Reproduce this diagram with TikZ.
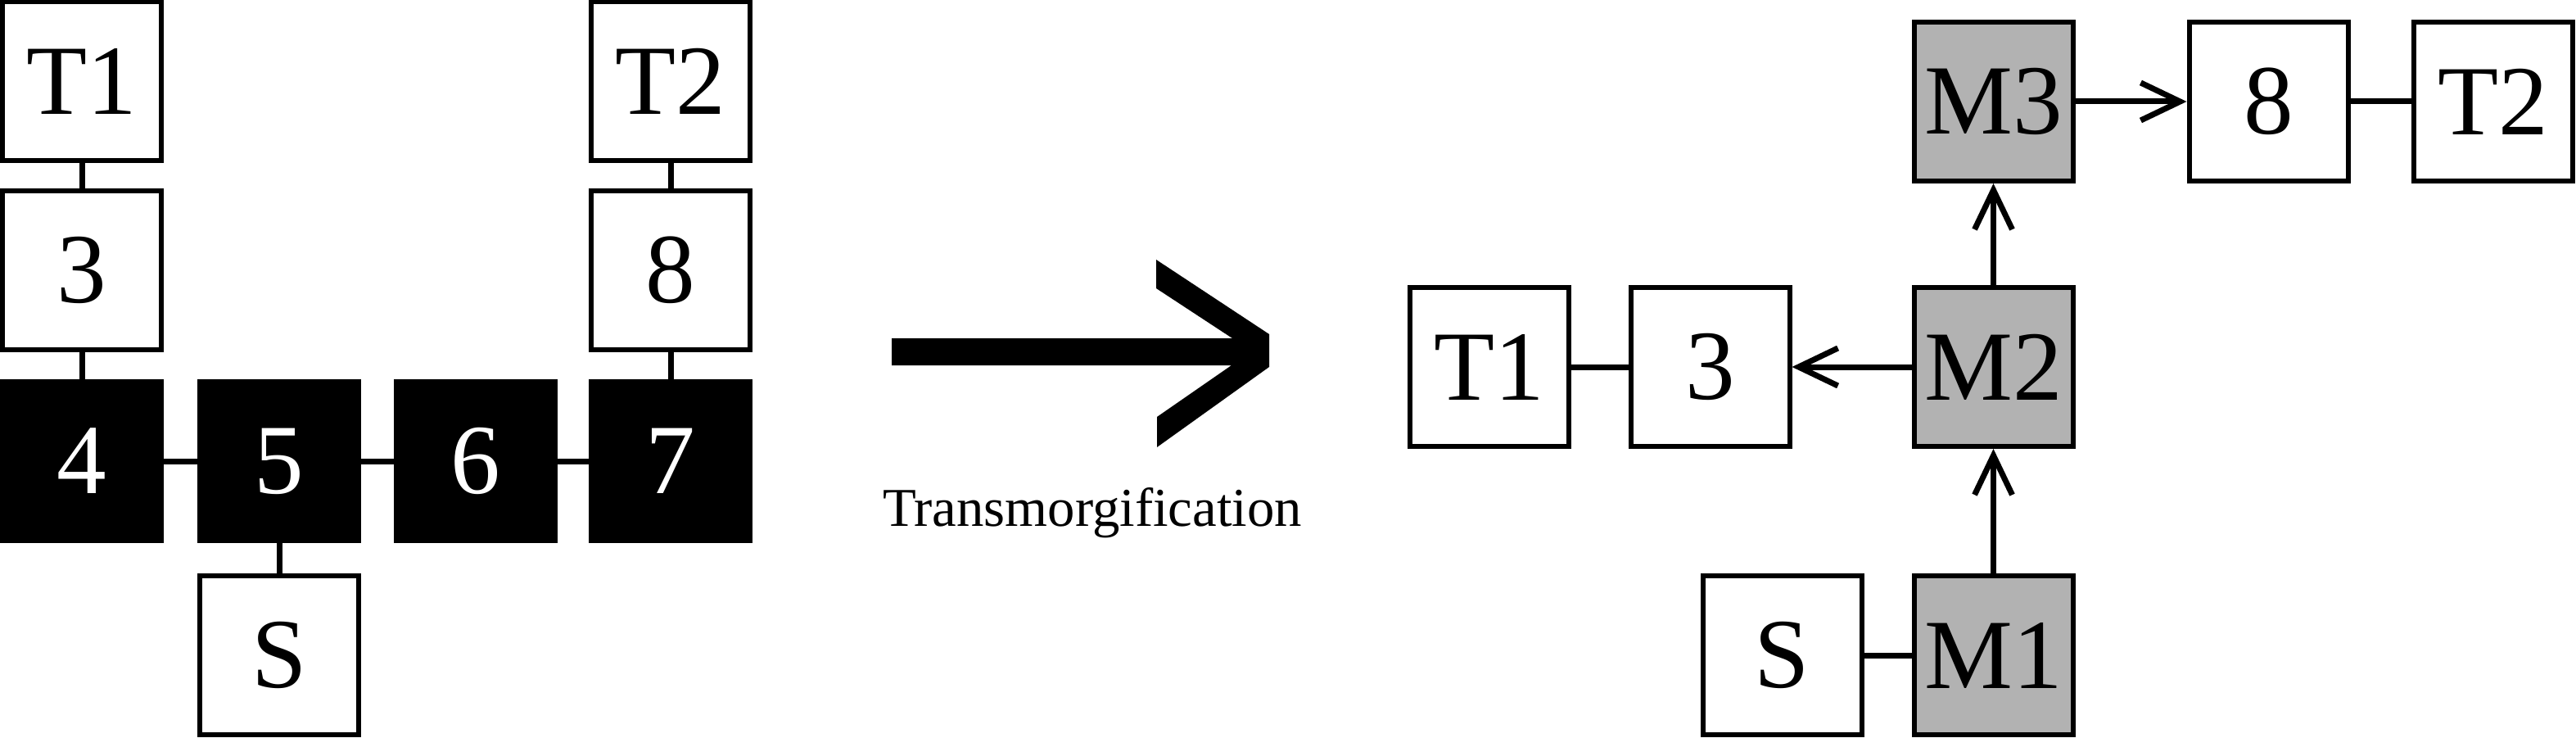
\documentclass[tikz,border=0pt]{standalone}
\usepackage{fontspec}
\setmainfont{Liberation Serif}
\usetikzlibrary{arrows.meta}
\newcommand\blockfont{\fontsize{34.5}{40}\selectfont}
\newcommand\notefont{\fontsize{19}{23}\selectfont}
\begin{document}
\begin{tikzpicture}[node distance={24mm}, line width=0.6mm,
    box/.style = {draw, minimum size=19.4mm, inner sep=0pt, font=\blockfont},
    dark/.style = {box, fill=black, text=white},
    grey/.style = {box, fill=black!30},
    link/.style = {line width=0.7mm},
    move/.style = {link, -{Straight Barb[length=4.8mm, width=4.6mm]}}]
    \useasboundingbox (0,0) rectangle (31.46,9);

    % before
    \node[dark] (4) at (1.0,3.37) {4};
    \node[dark] (5) [right of=4, node distance=24.1mm] {5};
    \node[dark] (6) [right of=5] {6};
    \node[dark] (7) [right of=6, node distance=23.8mm] {7};
    \node[box] (3) [above of=4, node distance=23.3mm] {3};
    \node[box] (T1) [above of=3, node distance=23.1mm] {T1};
    \node[box] (8) [above of=7, node distance=23.3mm] {8};
    \node[box] (T2) [above of=8, node distance=23.1mm] {T2};
    \node[box] (S) [below of=5, node distance=23.7mm] {S};

    \draw[link] (T1) -- (3);
    \draw[link] (3) -- (4);
    \draw[link] (4) -- (5);
    \draw[link] (5) -- (6);
    \draw[link] (6) -- (7);
    \draw[link] (7) -- (8);
    \draw[link] (8) -- (T2);
    \draw[link] (5) -- (S);

    % big arrow
    \fill (10.89,4.87) -- (15.05,4.87) -- (14.12,5.48) -- (14.12,5.83) -- (15.50,4.92)
        -- (15.50,4.52) -- (14.13,3.54) -- (14.13,3.91) -- (15.04,4.54) -- (10.89,4.54) -- cycle;
    \node[anchor=base, font=\notefont] (note) at (13.34,2.58) {Transmorgification};

    % after
    \node[grey] (M1) at (24.345,1.0) {M1};
    \node[grey] (M2) [above of=M1, node distance=35.2mm] {M2};
    \node[grey] (M3) [above of=M2, node distance=32.4mm] {M3};
    \node[box] (n3) [left of=M2, node distance=34.6mm] {3};
    \node[box] (nT1) [left of=n3, node distance=26.95mm] {T1};
    \node[box] (nS) [left of=M1, node distance=25.8mm] {S};
    \node[box] (n8) [right of=M3, node distance=33.6mm] {8};
    \node[box] (nT2) [right of=n8, node distance=27.4mm] {T2};

    \draw[link] (nT1) -- (n3);
    \draw[link] (n8) -- (nT2);
    \draw[link] (nS) -- (M1);
    \draw[move] (M1) -- (M2);
    \draw[move] (M2) -- (M3);
    \draw[move] (M2) -- (n3);
    \draw[move] (M3) -- (n8);
\end{tikzpicture}
\end{document}
